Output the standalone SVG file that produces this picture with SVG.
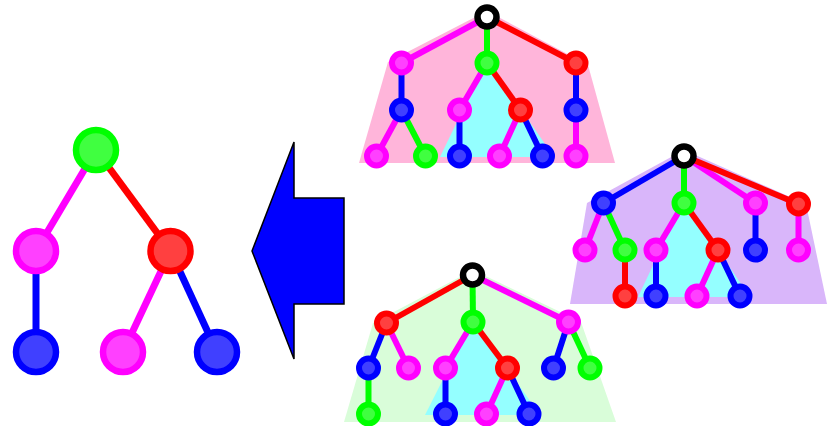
<svg xmlns="http://www.w3.org/2000/svg" width="835" height="426" viewBox="0 0 835 426">
<style>
.e{fill:none;stroke-width:6}
.eb{stroke-width:7}
.m{stroke:#ff00ff}.g{stroke:#00ff00}.r{stroke:#ff0000}.b{stroke:#0000ff}
.n{stroke-width:6}
.big{stroke-width:6.5}
.nm{fill:#ff40ff;stroke:#ff00ff}
.ng{fill:#40ff40;stroke:#00ff00}
.nr{fill:#ff4040;stroke:#ff0000}
.nb{fill:#4040ff;stroke:#0000ff}
.root{fill:#ffffff;stroke:#000000;stroke-width:6.5}
</style>
<rect width="835" height="426" fill="#ffffff"/>
<g id="regions">
<polygon points="487,11 388,62 359,163 615,163 588,65" fill="#ffb5da"/>
<polygon points="487,60 440,157 554,157" fill="#94ffff"/>
<polygon points="684,150 587,203 570,304 827,304 806,204" fill="#d9b6fa"/>
<polygon points="684,200 638,297 750,297" fill="#94ffff"/>
<polygon points="473,270 373,323 344,422 616,422 581,322" fill="#d9fdd9"/>
<polygon points="473,320 425,415 540,415" fill="#94ffff"/>
</g>
<g id="arrow">
<polygon points="252,251 294,142 294,198 344,198 344,304 294,304 294,359" fill="#0000ff" stroke="#000000" stroke-width="1.5"/>
</g>
<g id="connectors">
<!-- left tree -->
<line class="e eb m" x1="96" y1="150" x2="36" y2="251"/>
<line class="e eb r" x1="96" y1="150" x2="170.5" y2="251"/>
<line class="e eb b" x1="36" y1="251" x2="36" y2="352"/>
<line class="e eb m" x1="170.5" y1="251" x2="123" y2="352"/>
<line class="e eb b" x1="170.5" y1="251" x2="217" y2="352"/>
<!-- top tree -->
<line class="e m" x1="487" y1="17" x2="401.5" y2="63"/>
<line class="e g" x1="487" y1="17" x2="487" y2="63"/>
<line class="e r" x1="487" y1="17" x2="576" y2="63"/>
<line class="e b" x1="401.5" y1="63" x2="401.5" y2="110"/>
<line class="e m" x1="401.5" y1="110" x2="376.5" y2="156"/>
<line class="e g" x1="401.5" y1="110" x2="425.5" y2="156"/>
<line class="e m" x1="487" y1="63" x2="459.5" y2="110"/>
<line class="e r" x1="487" y1="63" x2="520.5" y2="110"/>
<line class="e b" x1="459.5" y1="110" x2="459.5" y2="156"/>
<line class="e m" x1="520.5" y1="110" x2="499.5" y2="156"/>
<line class="e b" x1="520.5" y1="110" x2="542.5" y2="156"/>
<line class="e b" x1="576" y1="63" x2="576" y2="110"/>
<line class="e m" x1="576" y1="110" x2="576" y2="156"/>
<!-- right tree -->
<line class="e b" x1="684" y1="156" x2="603.5" y2="203"/>
<line class="e g" x1="684" y1="156" x2="684" y2="203"/>
<line class="e m" x1="684" y1="156" x2="755.5" y2="203"/>
<line class="e r" x1="684" y1="156" x2="798.5" y2="204"/>
<line class="e m" x1="603.5" y1="203" x2="585" y2="250"/>
<line class="e g" x1="603.5" y1="203" x2="625" y2="250"/>
<line class="e r" x1="625" y1="250" x2="625" y2="296"/>
<line class="e m" x1="684" y1="203" x2="656" y2="250"/>
<line class="e r" x1="684" y1="203" x2="718" y2="250"/>
<line class="e b" x1="656" y1="250" x2="656" y2="296"/>
<line class="e m" x1="718" y1="250" x2="697" y2="296"/>
<line class="e b" x1="718" y1="250" x2="740" y2="296"/>
<line class="e b" x1="755.5" y1="203" x2="755.5" y2="250"/>
<line class="e m" x1="798.5" y1="204" x2="798.5" y2="250"/>
<!-- bottom tree -->
<line class="e r" x1="472.5" y1="275" x2="386.5" y2="323"/>
<line class="e g" x1="472.5" y1="275" x2="473" y2="322"/>
<line class="e m" x1="472.5" y1="275" x2="568.5" y2="322"/>
<line class="e b" x1="386.5" y1="323" x2="368.5" y2="368"/>
<line class="e m" x1="386.5" y1="323" x2="408.5" y2="368"/>
<line class="e g" x1="368.5" y1="368" x2="368.5" y2="414"/>
<line class="e m" x1="473" y1="322" x2="445.5" y2="368"/>
<line class="e r" x1="473" y1="322" x2="507.5" y2="368"/>
<line class="e b" x1="445.5" y1="368" x2="445.5" y2="414"/>
<line class="e m" x1="507.5" y1="368" x2="486.5" y2="414"/>
<line class="e b" x1="507.5" y1="368" x2="529" y2="414"/>
<line class="e b" x1="568.5" y1="322" x2="553.5" y2="368"/>
<line class="e g" x1="568.5" y1="322" x2="590" y2="368"/>
</g>
<!-- left tree nodes -->
<g id="L-root"><circle class="big ng" cx="96" cy="150" r="20"/></g>
<g id="L-a"><circle class="big nm" cx="36" cy="251" r="20"/></g>
<g id="L-b"><circle class="big nr" cx="170.5" cy="251" r="20"/></g>
<g id="L-aa"><circle class="big nb" cx="36" cy="352" r="20"/></g>
<g id="L-ba"><circle class="big nm" cx="123" cy="352" r="20"/></g>
<g id="L-bb"><circle class="big nb" cx="217" cy="352" r="20"/></g>
<!-- top tree nodes -->
<g id="T-root"><circle class="root" cx="487" cy="17" r="9.5"/></g>
<g id="T-a"><circle class="n nm" cx="401.5" cy="63" r="9.5"/></g>
<g id="T-b"><circle class="n ng" cx="487" cy="63" r="9.5"/></g>
<g id="T-c"><circle class="n nr" cx="576" cy="63" r="9.5"/></g>
<g id="T-aa"><circle class="n nb" cx="401.5" cy="110" r="9.5"/></g>
<g id="T-ba"><circle class="n nm" cx="459.5" cy="110" r="9.5"/></g>
<g id="T-bb"><circle class="n nr" cx="520.5" cy="110" r="9.5"/></g>
<g id="T-ca"><circle class="n nb" cx="576" cy="110" r="9.5"/></g>
<g id="T-aaa"><circle class="n nm" cx="376.5" cy="156" r="9.5"/></g>
<g id="T-aab"><circle class="n ng" cx="425.5" cy="156" r="9.5"/></g>
<g id="T-baa"><circle class="n nb" cx="459.5" cy="156" r="9.5"/></g>
<g id="T-bba"><circle class="n nm" cx="499.5" cy="156" r="9.5"/></g>
<g id="T-bbb"><circle class="n nb" cx="542.5" cy="156" r="9.5"/></g>
<g id="T-caa"><circle class="n nm" cx="576" cy="156" r="9.5"/></g>
<!-- right tree nodes -->
<g id="R-root"><circle class="root" cx="684" cy="156" r="9.5"/></g>
<g id="R-a"><circle class="n nb" cx="603.5" cy="203" r="9.5"/></g>
<g id="R-b"><circle class="n ng" cx="684" cy="203" r="9.5"/></g>
<g id="R-c"><circle class="n nm" cx="755.5" cy="203" r="9.5"/></g>
<g id="R-d"><circle class="n nr" cx="798.5" cy="204" r="9.5"/></g>
<g id="R-aa"><circle class="n nm" cx="585" cy="250" r="9.5"/></g>
<g id="R-ab"><circle class="n ng" cx="625" cy="250" r="9.5"/></g>
<g id="R-ba"><circle class="n nm" cx="656" cy="250" r="9.5"/></g>
<g id="R-bb"><circle class="n nr" cx="718" cy="250" r="9.5"/></g>
<g id="R-ca"><circle class="n nb" cx="755.5" cy="250" r="9.5"/></g>
<g id="R-da"><circle class="n nm" cx="798.5" cy="250" r="9.5"/></g>
<g id="R-aba"><circle class="n nr" cx="625" cy="296" r="9.5"/></g>
<g id="R-baa"><circle class="n nb" cx="656" cy="296" r="9.5"/></g>
<g id="R-bba"><circle class="n nm" cx="697" cy="296" r="9.5"/></g>
<g id="R-bbb"><circle class="n nb" cx="740" cy="296" r="9.5"/></g>
<!-- bottom tree nodes -->
<g id="B-root"><circle class="root" cx="472.5" cy="275" r="9.5"/></g>
<g id="B-a"><circle class="n nr" cx="386.5" cy="323" r="9.5"/></g>
<g id="B-b"><circle class="n ng" cx="473" cy="322" r="9.5"/></g>
<g id="B-c"><circle class="n nm" cx="568.5" cy="322" r="9.5"/></g>
<g id="B-aa"><circle class="n nb" cx="368.5" cy="368" r="9.5"/></g>
<g id="B-ab"><circle class="n nm" cx="408.5" cy="368" r="9.5"/></g>
<g id="B-ba"><circle class="n nm" cx="445.5" cy="368" r="9.5"/></g>
<g id="B-bb"><circle class="n nr" cx="507.5" cy="368" r="9.5"/></g>
<g id="B-ca"><circle class="n nb" cx="553.5" cy="368" r="9.5"/></g>
<g id="B-cb"><circle class="n ng" cx="590" cy="368" r="9.5"/></g>
<g id="B-aaa"><circle class="n ng" cx="368.5" cy="414" r="9.5"/></g>
<g id="B-baa"><circle class="n nb" cx="445.5" cy="414" r="9.5"/></g>
<g id="B-bba"><circle class="n nm" cx="486.5" cy="414" r="9.5"/></g>
<g id="B-bbb"><circle class="n nb" cx="529" cy="414" r="9.5"/></g>
</svg>
